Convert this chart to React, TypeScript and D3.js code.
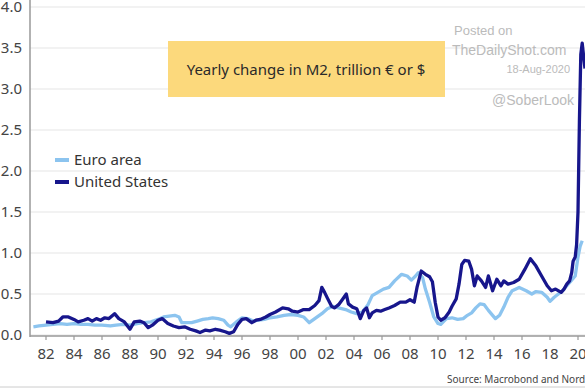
import React from "react";
import * as d3 from "d3";

// yearly change in M2, trillion (decimal year, value)
const usYears = [
  1982.0, 1982.5, 1982.9, 1983.2, 1983.6, 1984.0, 1984.3, 1984.7, 1985.0, 1985.3, 1985.6, 1985.9,
  1986.2, 1986.5, 1986.9, 1987.2, 1987.6, 1988.0, 1988.3, 1988.7, 1989.0, 1989.3, 1989.6, 1990.0,
  1990.3, 1990.7, 1991.1, 1991.5, 1991.9, 1992.3, 1992.7, 1993.0, 1993.4, 1993.7, 1994.1, 1994.4,
  1994.8, 1995.1, 1995.4, 1995.7, 1996.0, 1996.3, 1996.7, 1997.0, 1997.3, 1997.7, 1998.0, 1998.4,
  1998.9, 1999.3, 1999.6, 2000.0, 2000.4, 2000.8, 2001.2, 2001.5, 2001.7, 2001.9, 2002.1, 2002.4,
  2002.6, 2002.9, 2003.2, 2003.45, 2003.6, 2003.9, 2004.2, 2004.45, 2004.7, 2004.9, 2005.1, 2005.3,
  2005.6, 2005.9, 2006.2, 2006.5, 2006.9, 2007.3, 2007.7, 2008.0, 2008.3, 2008.5, 2008.8, 2009.1,
  2009.4, 2009.6, 2009.8, 2010.0, 2010.2, 2010.5, 2010.8, 2011.0, 2011.3, 2011.5, 2011.7, 2011.9,
  2012.2, 2012.4, 2012.6, 2012.8, 2013.1, 2013.4, 2013.6, 2013.9, 2014.2, 2014.5, 2014.7, 2015.0,
  2015.4, 2015.8, 2016.2, 2016.6, 2017.0, 2017.4, 2017.8, 2018.1, 2018.4, 2018.8, 2019.0, 2019.2,
  2019.4, 2019.55, 2019.65, 2019.8, 2019.9, 2020.0, 2020.1, 2020.2, 2020.3, 2020.4, 2020.5,
];
const usValues = [
  0.16, 0.15, 0.17, 0.22, 0.22, 0.19, 0.16, 0.18, 0.2, 0.17, 0.2, 0.18,
  0.21, 0.2, 0.26, 0.2, 0.16, 0.07, 0.16, 0.17, 0.15, 0.09, 0.12, 0.18,
  0.2, 0.14, 0.11, 0.09, 0.1, 0.07, 0.05, 0.03, 0.06, 0.05, 0.07, 0.06,
  0.04, 0.02, 0.04, 0.13, 0.19, 0.2, 0.15, 0.18, 0.19, 0.22, 0.25, 0.28,
  0.33, 0.32, 0.29, 0.28, 0.31, 0.31, 0.36, 0.42, 0.58, 0.52, 0.45, 0.35,
  0.33, 0.37, 0.44, 0.5, 0.38, 0.34, 0.32, 0.2, 0.3, 0.33, 0.21, 0.27,
  0.3, 0.29, 0.31, 0.33, 0.36, 0.4, 0.4, 0.43, 0.4, 0.58, 0.78, 0.74,
  0.71, 0.65, 0.4, 0.22, 0.18, 0.21, 0.28, 0.35, 0.44, 0.62, 0.86, 0.91,
  0.9, 0.8, 0.6, 0.72, 0.66, 0.58, 0.72, 0.54, 0.68, 0.6, 0.66, 0.62,
  0.64, 0.68, 0.8, 0.93, 0.84, 0.72, 0.6, 0.54, 0.56, 0.52, 0.56, 0.62,
  0.66, 0.76, 0.9, 0.95, 1.1, 1.5, 2.6, 3.42, 3.56, 3.4, 3.25,
];

const euroYears = [
  1981.1, 1981.5, 1982.0, 1982.5, 1983.0, 1983.5, 1984.0, 1984.5, 1985.0, 1985.5, 1986.0, 1986.6,
  1987.0, 1987.5, 1988.0, 1988.5, 1989.0, 1989.5, 1990.0, 1990.4, 1990.8, 1991.2, 1991.5, 1991.7,
  1992.0, 1992.4, 1992.8, 1993.2, 1993.6, 1993.9, 1994.3, 1994.7, 1995.0, 1995.2, 1995.6, 1996.0,
  1996.4, 1996.8, 1997.2, 1997.6, 1998.0, 1998.5, 1999.0, 1999.5, 2000.0, 2000.4, 2000.8, 2001.2,
  2001.7, 2002.1, 2002.5, 2002.9, 2003.4, 2003.8, 2004.2, 2004.6, 2005.0, 2005.3, 2005.7, 2006.1,
  2006.5, 2006.9, 2007.4, 2007.8, 2008.1, 2008.4, 2008.6, 2008.9, 2009.1, 2009.4, 2009.7, 2010.0,
  2010.2, 2010.6, 2011.0, 2011.4, 2011.8, 2012.1, 2012.4, 2012.7, 2013.0, 2013.3, 2013.6, 2013.9,
  2014.1, 2014.4, 2014.7, 2015.0, 2015.3, 2015.8, 2016.3, 2016.7, 2017.0, 2017.4, 2017.8, 2018.0,
  2018.3, 2018.6, 2018.9, 2019.2, 2019.5, 2019.8, 2020.0, 2020.15, 2020.3,
];
const euroValues = [
  0.1, 0.11, 0.12, 0.13, 0.14, 0.13, 0.14, 0.13, 0.13, 0.12, 0.12, 0.11,
  0.12, 0.13, 0.12, 0.14, 0.15, 0.16, 0.19, 0.22, 0.23, 0.24, 0.22, 0.15,
  0.15, 0.15, 0.17, 0.19, 0.2, 0.21, 0.2, 0.18, 0.12, 0.1, 0.16, 0.21,
  0.2, 0.17, 0.18, 0.19, 0.21, 0.22, 0.24, 0.25, 0.24, 0.22, 0.15, 0.2,
  0.26, 0.32, 0.35, 0.33, 0.31, 0.28, 0.26, 0.28, 0.37, 0.48, 0.52, 0.56,
  0.58, 0.66, 0.74, 0.72, 0.67, 0.72, 0.76, 0.7, 0.56, 0.4, 0.22, 0.14,
  0.13, 0.2, 0.21, 0.19, 0.2, 0.24, 0.27, 0.33, 0.38, 0.37, 0.3, 0.24,
  0.2, 0.24, 0.34, 0.46, 0.54, 0.58, 0.54, 0.5, 0.53, 0.52, 0.46, 0.41,
  0.46, 0.5, 0.54, 0.6, 0.66, 0.72, 0.95, 1.08, 1.15,
];

const yTicks = [0, 0.5, 1, 1.5, 2, 2.5, 3, 3.5, 4];
const xTicks = d3.range(1982, 2021, 2);

const W = 585;
const H = 390;

export default function App() {
  const x = d3.scaleLinear().domain([1982, 2020]).range([46, 578]);
  const y = d3.scaleLinear().domain([0, 4]).range([335, 7]);

  const line = d3
    .line<[number, number]>()
    .x((d) => x(d[0]))
    .y((d) => y(d[1]))
    .curve(d3.curveLinear);

  const euro = euroYears.map((yr, i) => [yr, euroValues[i]] as [number, number]);
  const us = usYears.map((yr, i) => [yr, usValues[i]] as [number, number]);

  const font = "'Noto Sans', 'Open Sans', sans-serif";
  const wm = "Arial, 'Liberation Sans', sans-serif";

  return (
    <svg
      width={W}
      height={H}
      style={{ position: "absolute", left: 0, top: 0, background: "#fff" }}
      fontFamily={font}
    >
      {/* grid */}
      {yTicks.map((t) => (
        <line key={t} x1={30} x2={W} y1={y(t)} y2={y(t)} stroke="#e6e6e6" strokeWidth={1.2} />
      ))}
      {yTicks.map((t) => (
        <text key={"l" + t} x={22} y={y(t)} dy="0.35em" textAnchor="end" fontSize={15} fill="#444">
          {t.toFixed(1)}
        </text>
      ))}

      {/* axes */}
      <line x1={30} x2={30} y1={0} y2={337} stroke="#999" strokeWidth={1.5} />
      <line x1={30} x2={W} y1={336} y2={336} stroke="#999" strokeWidth={1.5} />
      {xTicks.map((t) => (
        <g key={t}>
          <line x1={x(t)} x2={x(t)} y1={336} y2={340} stroke="#999" strokeWidth={1.2} />
          <text x={x(t)} y={354} dy="0.35em" textAnchor="middle" fontSize={15} fill="#444">
            {String(t % 100).padStart(2, "0")}
          </text>
        </g>
      ))}

      {/* series */}
      <path d={line(euro) || ""} fill="none" stroke="#8cc4ef" strokeWidth={3.3} strokeLinejoin="round" />
      <path d={line(us) || ""} fill="none" stroke="#17168c" strokeWidth={3.3} strokeLinejoin="round" />

      {/* legend */}
      <line x1={55} x2={69} y1={160} y2={160} stroke="#8cc4ef" strokeWidth={4} />
      <text x={74} y={160} dy="0.35em" fontSize={15} fill="#333">Euro area</text>
      <line x1={55} x2={69} y1={182} y2={182} stroke="#17168c" strokeWidth={4} />
      <text x={74} y={182} dy="0.35em" fontSize={15} fill="#333">United States</text>

      {/* title box */}
      <rect x={168} y={41} width={277} height={56} fill="#fcd97c" />
      <text x={306} y={70} dy="0.35em" textAnchor="middle" fontSize={15} fill="#2a2a2a">
        Yearly change in M2, trillion € or $
      </text>

      {/* watermark */}
      <text x={454} y={30} dy="0.35em" fontSize={13} fill="#bbb" fontFamily={wm}>Posted on</text>
      <text x={452} y={50} dy="0.35em" fontSize={14} fill="#bbb" fontFamily={wm}>TheDailyShot.com</text>
      <text x={570} y={69} dy="0.35em" textAnchor="end" fontSize={11} fill="#bbb" fontFamily={wm}>18-Aug-2020</text>
      <text x={574} y={100} dy="0.35em" textAnchor="end" fontSize={14} fill="#bbb" fontFamily={wm}>@SoberLook</text>

      {/* footer */}
      <line x1={0} x2={W} y1={387} y2={387} stroke="#ccc" strokeWidth={1} />
      <text x={447} y={379} dy="0.35em" fontSize={10} fill="#444">Source: Macrobond and Nordea</text>
    </svg>
  );
}
